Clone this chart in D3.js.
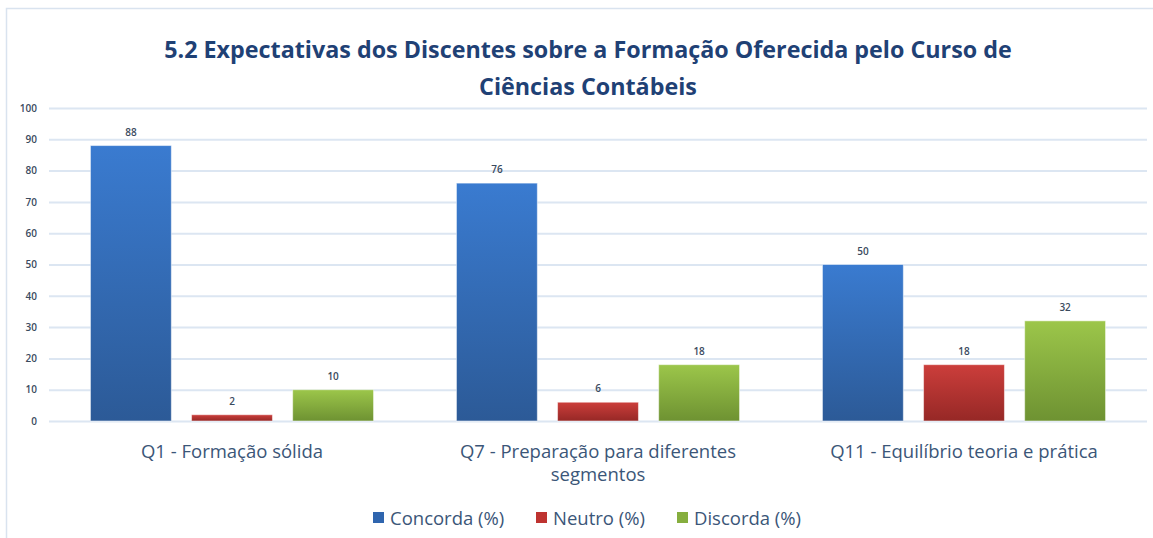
<!DOCTYPE html>
<html>
  <head>
    <meta charset="utf-8">
    <script src="https://d3js.org/d3.v7.min.js"></script>
    <title>Expectativas dos Discentes</title>
    <style>
      body { margin: 0; background: #fff; }
      text { font-family: "Open Sans", "Noto Sans", sans-serif; }
    </style>
  </head>
  <body>
    <div id="chart"></div>
    <script>
      // data
      const categories = [
        ["Q1 - Formação sólida"],
        ["Q7 - Preparação para diferentes", "segmentos"],
        ["Q11 - Equilíbrio teoria e prática"]
      ];
      const seriesNames = ["Concorda (%)", "Neutro (%)", "Discorda (%)"];
      const concorda = [88, 76, 50];
      const neutro = [2, 6, 18];
      const discorda = [10, 18, 32];
      const yTicks = [0, 10, 20, 30, 40, 50, 60, 70, 80, 90, 100];

      const W = 1153, H = 538;
      const values = [concorda, neutro, discorda];
      const colors = [
        { top: "#3A7BD0", bottom: "#2C5A97", legend: "#2F65AE" },
        { top: "#CC3E3B", bottom: "#962826", legend: "#BE3330" },
        { top: "#9CC64A", bottom: "#6E9232", legend: "#86AE3E" }
      ];

      const svg = d3.select("#chart").append("svg")
        .attr("width", W).attr("height", H);

      // gradients for the bars
      const defs = svg.append("defs");
      colors.forEach((c, i) => {
        const g = defs.append("linearGradient")
          .attr("id", "grad" + i)
          .attr("x1", 0).attr("y1", 0).attr("x2", 0).attr("y2", 1);
        g.append("stop").attr("offset", "0%").attr("stop-color", c.top);
        g.append("stop").attr("offset", "100%").attr("stop-color", c.bottom);
      });

      // chart border (top + left visible)
      svg.append("path")
        .attr("d", `M6.5,${H} V8.5 H${W}`)
        .attr("fill", "none")
        .attr("stroke", "#D9E3EF")
        .attr("stroke-width", 1.5);

      // title
      const title = svg.append("text")
        .attr("text-anchor", "middle")
        .attr("fill", "#1F4175")
        .attr("font-weight", "bold")
        .attr("font-size", 23.3)
        .attr("textLength", null);
      title.append("tspan").attr("x", 588).attr("y", 58)
        .text("5.2 Expectativas dos Discentes sobre a Formação Oferecida pelo Curso de");
      title.append("tspan").attr("x", 588).attr("y", 95)
        .text("Ciências Contábeis");

      const plot = { left: 49, right: 1147, top: 108, bottom: 421 };

      const y = d3.scaleLinear().domain([0, 100]).range([plot.bottom, plot.top]);
      const x0 = d3.scaleBand()
        .domain(d3.range(categories.length))
        .range([plot.left, plot.right]);
      const x1 = d3.scaleBand()
        .domain(d3.range(seriesNames.length))
        .range([0, x0.bandwidth()])
        .paddingInner(0.2)
        .paddingOuter(0.41);

      // gridlines
      const yAxis = d3.axisLeft(y).tickValues(yTicks)
        .tickSize(-(plot.right - plot.left));
      const ga = svg.append("g")
        .attr("transform", `translate(${plot.left},0)`)
        .call(yAxis);
      ga.select(".domain").remove();
      ga.selectAll(".tick line").attr("stroke", "#DCE6F2").attr("stroke-width", 2);
      ga.selectAll(".tick text")
        .attr("fill", "#3A4A5E")
        .attr("font-size", 10)
        .attr("font-weight", "600")
        .attr("text-anchor", "end")
        .attr("x", -12);

      // bars
      const groups = svg.append("g").selectAll("g")
        .data(categories)
        .join("g")
        .attr("transform", (d, i) => `translate(${x0(i)},0)`);

      groups.selectAll("rect")
        .data((d, i) => values.map((s, k) => ({ k, v: s[i] })))
        .join("rect")
        .attr("x", d => x1(d.k))
        .attr("y", d => y(d.v))
        .attr("width", x1.bandwidth())
        .attr("height", d => y(0) - y(d.v))
        .attr("fill", d => `url(#grad${d.k})`)
        .attr("stroke", "rgba(255,255,255,0.5)")
        .attr("stroke-width", 1);

      groups.selectAll("text.val")
        .data((d, i) => values.map((s, k) => ({ k, v: s[i] })))
        .join("text")
        .attr("class", "val")
        .attr("x", d => x1(d.k) + x1.bandwidth() / 2)
        .attr("y", d => y(d.v) - 10)
        .attr("text-anchor", "middle")
        .attr("fill", "#3A4A5E")
        .attr("font-size", 10)
        .attr("font-weight", "600")
        .text(d => d.v);

      // category labels
      groups.append("text")
        .attr("text-anchor", "middle")
        .attr("fill", "#3B5678")
        .attr("font-size", 18.5)
        .selectAll("tspan")
        .data(d => d)
        .join("tspan")
        .attr("x", x0.bandwidth() / 2)
        .attr("y", (d, i) => 458 + i * 23)
        .text(d => d);

      // legend
      const legendX = [373, 536, 677];
      const lg = svg.append("g").selectAll("g")
        .data(seriesNames)
        .join("g")
        .attr("transform", (d, i) => `translate(${legendX[i]},525)`);
      lg.append("rect")
        .attr("x", 0).attr("y", -13)
        .attr("width", 11).attr("height", 11)
        .attr("fill", (d, i) => colors[i].legend);
      lg.append("text")
        .attr("x", 17).attr("y", 0)
        .attr("fill", "#3B5678")
        .attr("font-size", 18.5)
        .text(d => d);
    </script>
  </body>
</html>
